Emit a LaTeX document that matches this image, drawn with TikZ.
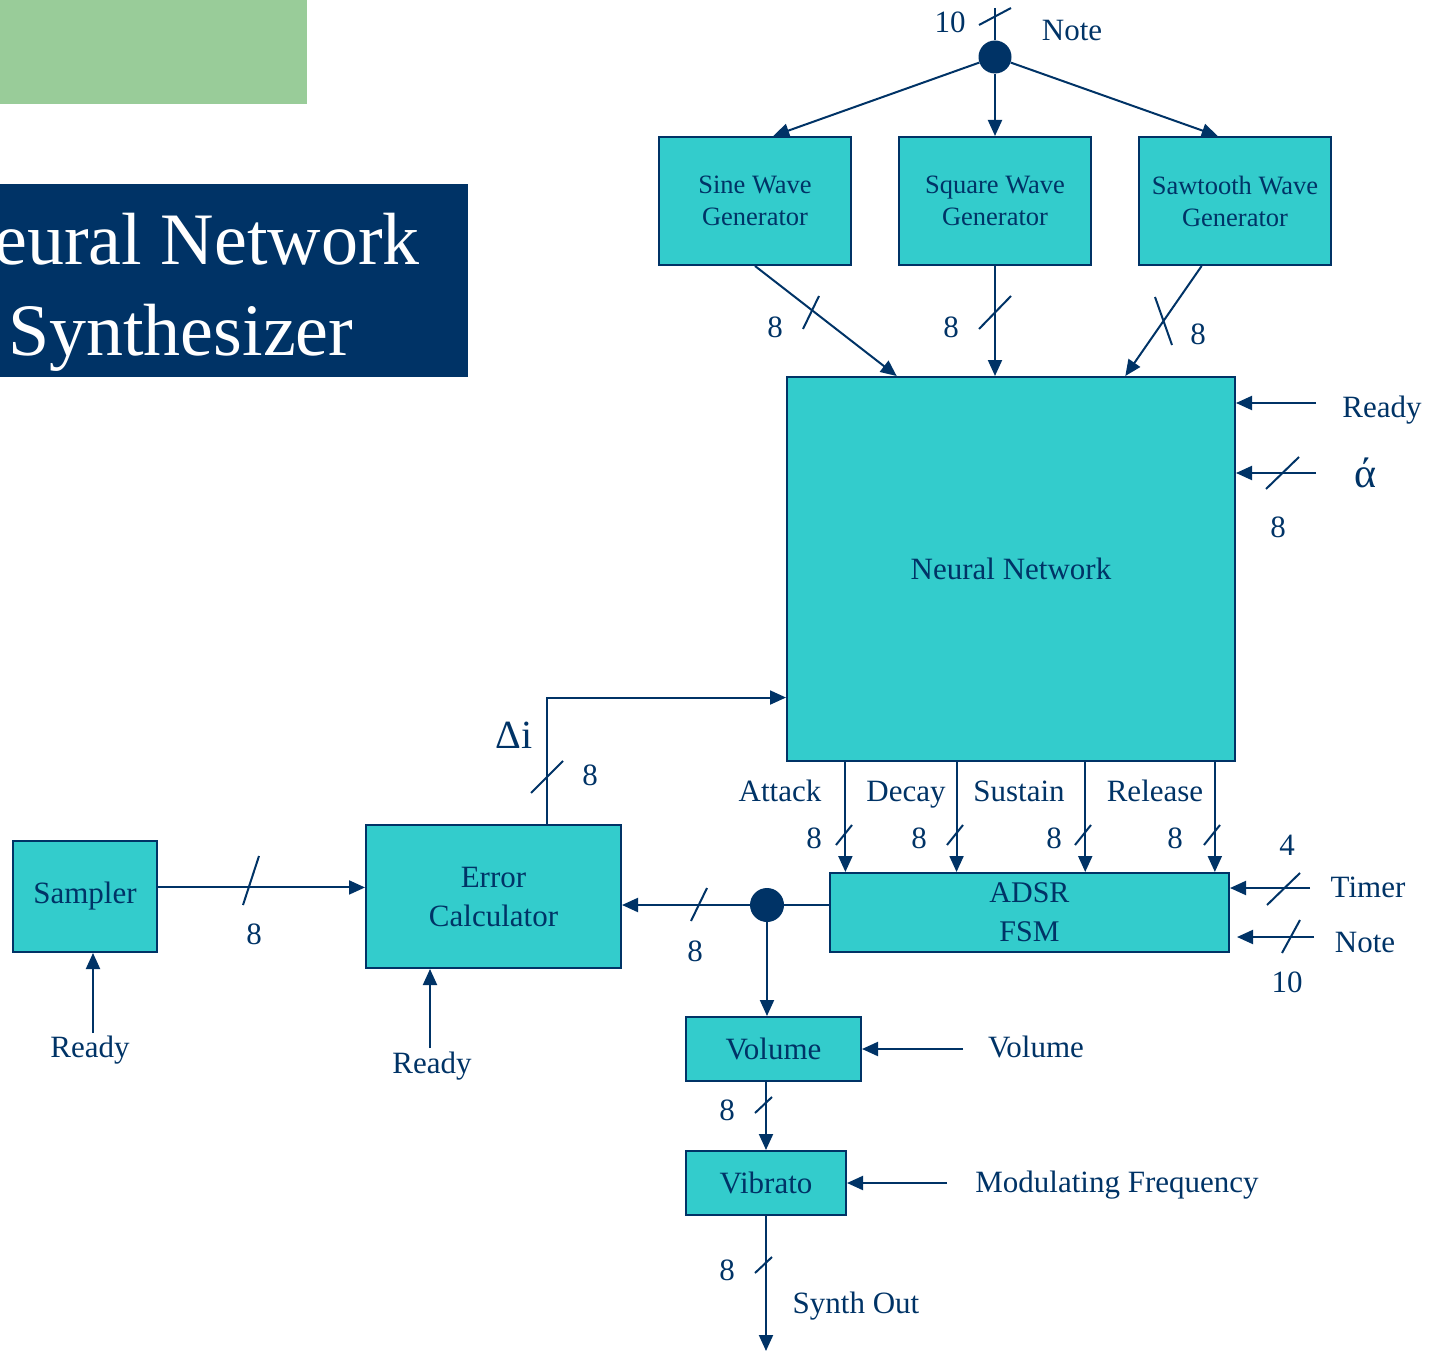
\documentclass[tikz,border=0pt]{standalone}
\usepackage{fontspec}
\setmainfont{Liberation Serif}
\usetikzlibrary{arrows.meta,calc}
\definecolor{navy}{HTML}{003366}
\definecolor{boxfill}{HTML}{33CCCC}
\definecolor{greenbox}{HTML}{99CC99}
\begin{document}
\begin{tikzpicture}[x=1pt,y=-1pt,
  blk/.style={draw=navy, fill=boxfill, line width=2pt, inner sep=0pt, text=navy, align=center},
  gen/.style={blk, minimum width=192, minimum height=128, font=\fontsize{26.5}{32}\selectfont},
  wire/.style={navy, line width=2pt},
  arr/.style={wire, -{Triangle[length=16pt,width=14pt]}},
  lbl/.style={text=navy, inner sep=0pt, anchor=base, font=\fontsize{31}{38}\selectfont},
  dot/.style={circle, fill=navy, inner sep=0pt, minimum size=33}]
\useasboundingbox (0,0) rectangle (1433,1351);
\clip (0,0) rectangle (1433,1351);

% title area
\fill[greenbox] (0,0) rectangle (307,104);
\fill[navy] (0,184) rectangle (468,377);
\node[anchor=base east, text=white, inner sep=0pt, font=\fontsize{74}{90}\selectfont] (t1) at (420,265) {Neural Network};
\node[anchor=base west, text=white, inner sep=0pt, font=\fontsize{74}{90}\selectfont] (t2) at (8,355) {Synthesizer};

% blocks
\node[gen] (sine) at (755,201) {Sine Wave\\Generator};
\node[gen] (square) at (995,201) {Square Wave\\Generator};
\node[gen] (saw) at (1235,201) {Sawtooth Wave\\Generator};
\node[blk, minimum width=448, minimum height=384, font=\fontsize{31}{36}\selectfont] (nn) at (1011,569) {Neural Network};
\node[blk, minimum width=399, minimum height=79, font=\fontsize{30}{39}\selectfont] (adsr) at (1029.5,912.5) {ADSR\\FSM};
\node[blk, minimum width=255, minimum height=143, font=\fontsize{31}{39}\selectfont] (err) at (493.5,896.5) {Error\\ Calculator};
\node[blk, minimum width=144, minimum height=111, font=\fontsize{31}{38}\selectfont] (sampler) at (85,896.5) {Sampler};
\node[blk, minimum width=175, minimum height=64, font=\fontsize{31}{38}\selectfont] (volume) at (773.5,1049) {Volume};
\node[blk, minimum width=160, minimum height=64, font=\fontsize{31}{38}\selectfont] (vibrato) at (766,1183) {Vibrato};

\node[dot] (d1) at (995,57) {};
\node[dot, minimum size=34] (d2) at (767,905) {};

% top note input
\coordinate (noteTop) at (995,8);
\draw[wire] (noteTop) -- (d1);
\draw[arr] (d1) -- ($(sine.north west)!0.594!(sine.north east)$);
\draw[arr] (d1) -- (square.north);
\draw[arr] (d1) -- ($(saw.north west)!0.411!(saw.north east)$);

% generators to NN
\draw[arr] (sine.south) -- ($(nn.north west)!0.246!(nn.north east)$);
\draw[arr] (square.south) -- (square.south |- nn.north);
\draw[arr] ($(saw.south west)!0.328!(saw.south east)$) -- ($(nn.north west)!0.754!(nn.north east)$);

% right inputs of NN
\coordinate (rdyIn) at (1316,403);
\coordinate (alphaIn) at (1316,473);
\draw[arr] (rdyIn) -- (rdyIn -| nn.east);
\draw[arr] (alphaIn) -- (alphaIn -| nn.east);

% delta i feedback
\draw[arr] ($(err.north west)!0.71!(err.north east)$) |- ($(nn.north west)!0.833!(nn.south west)$);

% ADSR parameters
\foreach \f/\n in {0.132/a1,0.379/a2,0.665/a3,0.953/a4}{
  \coordinate (\n) at ($(nn.south west)!\f!(nn.south east)$);
  \draw[arr] (\n) -- (\n |- adsr.north);
}

% ADSR inputs
\coordinate (timerIn) at (1310,888);
\coordinate (noteIn) at (1314,937);
\draw[arr] (timerIn) -- (timerIn -| adsr.east);
\draw[arr] (noteIn) -- ($(noteIn -| adsr.east)+(7,0)$);

% ADSR output
\draw[wire] (d2 -| adsr.west) -- (d2);
\draw[arr] (d2) -- (d2 -| err.east);
\draw[arr] (d2) -- (d2 |- volume.north);

% sampler
\coordinate (smp) at ($(sampler.north east)!0.42!(sampler.south east)$);
\draw[arr] (smp) -- (smp -| err.west);
\coordinate (rdyS) at (93,1033);
\draw[arr] (rdyS) -- (rdyS |- sampler.south);
\coordinate (rdyE) at (430,1048);
\draw[arr] (rdyE) -- (rdyE |- err.south);

% volume / vibrato
\coordinate (volIn) at (963,1049);
\draw[arr] (volIn) -- (volIn -| volume.east);
\draw[arr] (vibrato.north |- volume.south) -- (vibrato.north);
\coordinate (modIn) at (947,1183);
\draw[arr] (modIn) -- (modIn -| vibrato.east);
\coordinate (synthOut) at (766,1351);
\draw[arr] (vibrato.south) -- (synthOut);

% bus slashes
\draw[wire] (979,25) -- (1011,8);
\draw[wire] (803,329) -- (819,296);
\draw[wire] (979,329) -- (1011,296);
\draw[wire] (1155,297) -- (1172,345);
\draw[wire] (1266,489) -- (1299,457);
\draw[wire] (531,793) -- (563,761);
\foreach \x in {846,957,1085,1214}{ \draw[wire] (\x-10,845) -- (\x+6,825); }
\draw[wire] (1267,905) -- (1300,873);
\draw[wire] (1282,953) -- (1300,920);
\draw[wire] (691,921) -- (707,888);
\draw[wire] (243,905) -- (259,856);
\draw[wire] (755,1113) -- (772,1097);
\draw[wire] (755,1273) -- (772,1257);

% labels
\node[lbl] (l10a) at (950,33) {10};
\node[lbl] (lnote1) at (1072,41) {Note};
\node[lbl] (l8a) at (775,337) {8};
\node[lbl] (l8b) at (951,337) {8};
\node[lbl] (l8c) at (1198,344) {8};
\node[lbl] (lrdy1) at (1382,417) {Ready};
\node[lbl, font=\fontsize{42}{48}\selectfont] (lalpha) at (1365,487) {ά};
\node[lbl] (l8d) at (1278,537) {8};
\node[lbl, font=\fontsize{40}{46}\selectfont] (ldelta) at (514,748) {Δi};
\node[lbl] (l8e) at (590,785) {8};
\node[lbl] (latt) at (780,801) {Attack};
\node[lbl] (ldec) at (906,801) {Decay};
\node[lbl] (lsus) at (1019,801) {Sustain};
\node[lbl] (lrel) at (1155,801) {Release};
\node[lbl] (l8f) at (814,848) {8};
\node[lbl] (l8g) at (919,848) {8};
\node[lbl] (l8h) at (1054,848) {8};
\node[lbl] (l8i) at (1175,848) {8};
\node[lbl] (l4) at (1287,855) {4};
\node[lbl] (ltimer) at (1368,897) {Timer};
\node[lbl] (lnote2) at (1365,952) {Note};
\node[lbl] (l10b) at (1287,992) {10};
\node[lbl] (l8j) at (695,961) {8};
\node[lbl] (l8k) at (254,944) {8};
\node[lbl] (lrdyS) at (90,1057) {Ready};
\node[lbl] (lrdyE) at (432,1073) {Ready};
\node[lbl] (lvol) at (1036,1057) {Volume};
\node[lbl] (l8l) at (727,1120) {8};
\node[lbl] (lmod) at (1117,1192) {Modulating Frequency};
\node[lbl] (l8m) at (727,1280) {8};
\node[lbl] (lout) at (856,1313) {Synth Out};
\end{tikzpicture}
\end{document}
